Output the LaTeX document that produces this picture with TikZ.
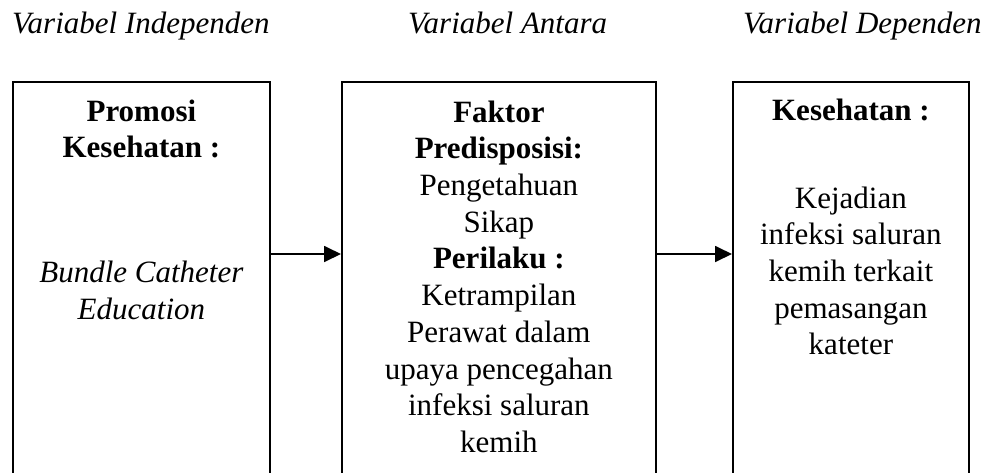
\documentclass[tikz,border=0pt]{standalone}
\usepackage{fontspec}
\setmainfont{Liberation Serif}
\usepackage{tikz}
\usetikzlibrary{arrows.meta, positioning}
\tikzstyle{kotak} = [rectangle, draw=black, line width=1.8pt, minimum height=410pt, anchor=north west, inner sep=0pt]
\tikzstyle{isi} = [align=center, inner sep=0pt, font=\fontsize{31}{36.7}\selectfont]
\tikzstyle{judul} = [inner sep=0pt, anchor=base west, font=\fontsize{31}{36.7}\selectfont\itshape]
\tikzstyle{panah} = [line width=1.8pt, -{Triangle[length=17pt, width=16pt]}]

\begin{document}
\begin{tikzpicture}[x=1pt, y=-1pt]
\useasboundingbox (0,0) rectangle (985,472);
\clip (0,0) rectangle (985,472);

% Judul variabel
\node (indep) [judul] at (12,33) {Variabel Independen};
\node (antaraj) [judul] at (408,33) {Variabel Antara};
\node (dep) [judul] at (743,33) {Variabel Dependen};

% Kotak
\node (promosi) [kotak, minimum width=257pt] at (12,81) {};
\node (antara) [kotak, minimum width=314pt] at (341,81) {};
\node (dependen) [kotak, minimum width=236pt] at (732,81) {};

% Isi kotak
\node (isipromosi) [isi, below=14.3pt of promosi.north] {\strut\textbf{Promosi}\\\textbf{Kesehatan :}\\[88.3pt]\textit{Bundle Catheter}\\\textit{Education}};
\node (isiantara) [isi, below=15.3pt of antara.north] {\strut\textbf{Faktor}\\\textbf{Predisposisi:}\\Pengetahuan\\Sikap\\\textbf{Perilaku :}\\Ketrampilan\\Perawat dalam\\upaya pencegahan\\infeksi saluran\\kemih};
\node (isidependen) [isi, below=13.3pt of dependen.north] {\strut\textbf{Kesehatan :}\\[51.3pt]Kejadian\\infeksi saluran\\kemih terkait\\pemasangan\\kateter};

% Panah
\coordinate (garis) at (0,254);
\draw [panah] (promosi.east |- garis) -- (antara.west |- garis);
\draw [panah] (antara.east |- garis) -- (dependen.west |- garis);

\end{tikzpicture}
\end{document}
